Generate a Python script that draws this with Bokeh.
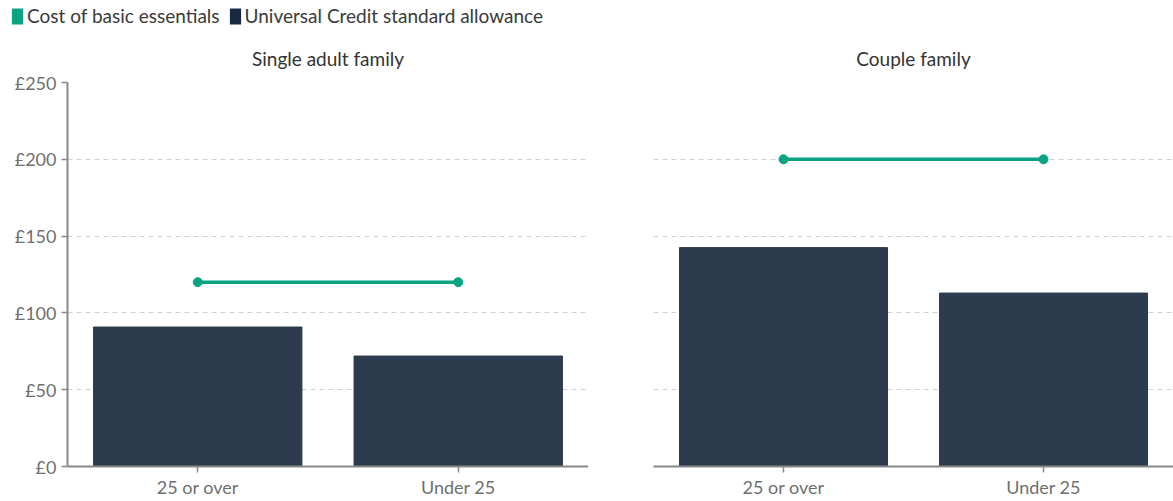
from bokeh.plotting import figure
from bokeh.layouts import row, column
from bokeh.models import FactorRange, Range1d, Legend, LegendItem, FixedTicker, CustomJSTickFormatter
from bokeh.embed import file_html
from bokeh.resources import INLINE

ages = ["25 or over", "Under 25"]
single_uc = [90.8, 71.9]
single_essentials = [120, 120]
couple_uc = [142.5, 112.9]
couple_essentials = [200, 200]
y_ticks = [0, 50, 100, 150, 200, 250]
panel_titles = ["Single adult family", "Couple family"]
legend_labels = ["Cost of basic essentials", "Universal Credit standard allowance"]

GREEN = "#0aa483"
NAVY = "#2d3b4e"
NAVY_LEG = "#172a42"
FONT = "Lato"
AXIS = "#888888"
TICKTXT = "#6f6f6f"

# legend strip
lf = figure(width=1173, height=30, x_range=Range1d(0, 1), y_range=Range1d(0, 1),
            output_backend="svg", toolbar_location=None, min_border=0)
lf.axis.visible = False
lf.grid.visible = False
lf.outline_line_color = None
g = lf.vbar(x=[5], top=[0], width=0.1, fill_color=GREEN, line_color=None)
n = lf.vbar(x=[5], top=[0], width=0.1, fill_color=NAVY_LEG, line_color=None)
leg = Legend(items=[LegendItem(label=legend_labels[0], renderers=[g]),
                    LegendItem(label=legend_labels[1], renderers=[n])],
             orientation="horizontal", location=(10, 3),
             label_text_font=FONT, label_text_font_size="19px", label_text_color="#3a3a3a",
             glyph_width=14, glyph_height=20, label_standoff=3, spacing=8,
             padding=0, margin=0, border_line_color=None, background_fill_alpha=0)
lf.add_layout(leg, "center")


def make_panel(uc, ess, title, left_border, frame_w, show_y):
    p = figure(x_range=FactorRange(*ages, range_padding=0), y_range=Range1d(0, 250),
               width=left_border + frame_w, height=471, output_backend="svg",
               toolbar_location=None, min_border_left=left_border, min_border_right=0,
               min_border_top=52, min_border_bottom=35, title=title)
    p.title.align = "center"
    p.title.text_font = FONT
    p.title.text_font_size = "19px"
    p.title.text_font_style = "normal"
    p.title.text_color = "#333333"
    p.title.standoff = 25
    p.outline_line_color = None
    p.vbar(x=ages, top=uc, width=0.8, fill_color=NAVY, line_color=NAVY)
    p.line(x=ages, y=ess, line_color=GREEN, line_width=3.5)
    p.scatter(x=ages, y=ess, size=9, fill_color=GREEN, line_color=GREEN)

    p.xgrid.grid_line_color = None
    p.ygrid.grid_line_color = "#d0d0d0"
    p.ygrid.grid_line_dash = "5 4"
    p.ygrid.grid_line_width = 1
    p.yaxis.ticker = FixedTicker(ticks=y_ticks)

    xa = p.xaxis[0]
    xa.axis_line_color = AXIS
    xa.axis_line_width = 2
    xa.major_tick_line_color = AXIS
    xa.major_tick_out = 6
    xa.major_tick_in = 0
    xa.major_tick_line_width = 1.5
    xa.major_label_text_font = FONT
    xa.major_label_text_font_size = "18px"
    xa.major_label_text_color = TICKTXT
    xa.major_label_standoff = 3

    ya = p.yaxis[0]
    if show_y:
        ya.axis_line_color = AXIS
        ya.axis_line_width = 2
        ya.major_tick_line_color = AXIS
        ya.major_tick_out = 6
        ya.major_tick_in = 0
        ya.major_tick_line_width = 1.5
        ya.minor_tick_line_color = None
        ya.major_label_text_font = FONT
        ya.major_label_text_font_size = "18px"
        ya.major_label_text_color = TICKTXT
        ya.major_label_standoff = 5
        ya.formatter = CustomJSTickFormatter(code="return '\u00a3' + tick;")
    else:
        ya.visible = False
    return p


left = make_panel(single_uc, single_essentials, panel_titles[0], 67, 521, True)
right = make_panel(couple_uc, couple_essentials, panel_titles[1], 65, 520, False)

layout = column(lf, row(left, right, spacing=0), spacing=0)
open("out.html", "w").write(file_html(layout, INLINE))
